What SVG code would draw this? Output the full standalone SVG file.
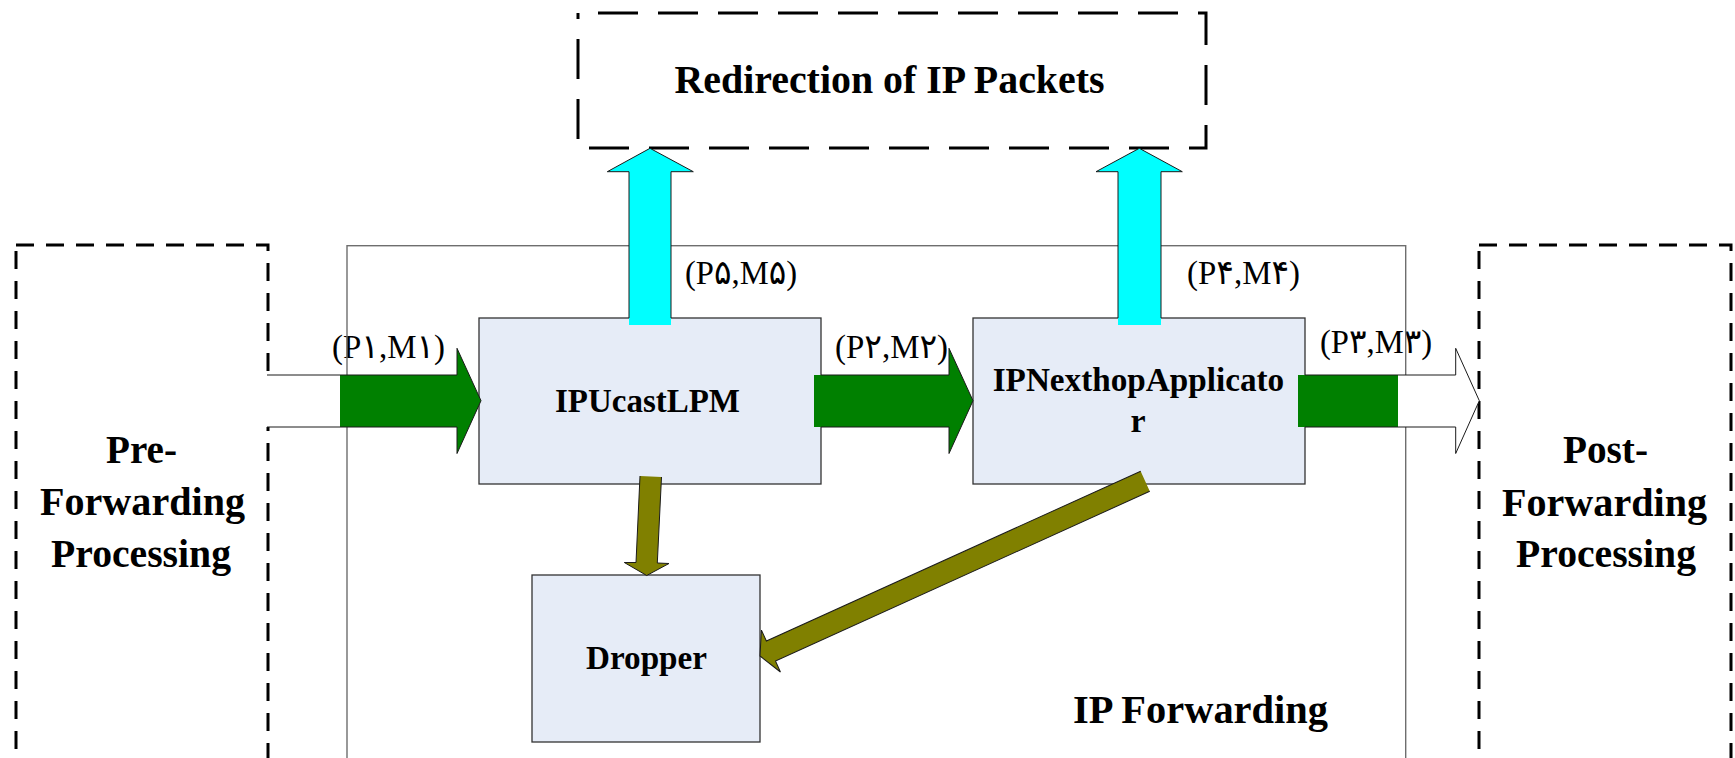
<svg xmlns="http://www.w3.org/2000/svg" width="1735" height="758" viewBox="0 0 1735 758">
  <style>
    .title { font-family: "Liberation Serif", "Times New Roman", serif; font-weight: bold; fill: #000; }
    .big { font-size: 41px; }
    .mid { font-size: 34px; }
    .flow { font-family: "Liberation Serif", "DejaVu Sans", serif; font-size: 34px; fill: #000; }
    .dash-top { fill: none; stroke: #000; stroke-width: 3; stroke-dasharray: 40 20; stroke-dashoffset: 40; }
    .dash-side { fill: none; stroke: #000; stroke-width: 3; stroke-dasharray: 18 12; }
    .frame { fill: none; stroke: #6e6e6e; stroke-width: 1.4; }
    .node { fill: #E6ECF7; stroke: #333; stroke-width: 1.3; }
    .green { fill: #008000; }
    .cyan { fill: #00FFFF; }
    .olive { fill: #808000; }
    .blank { fill: #fff; }
    .edge { fill: none; stroke: #1a1a1a; stroke-width: 1; stroke-linejoin: miter; }
  </style>

  <!-- packet / metadata labels on the flows -->
  <g id="flow-labels">
    <text class="flow" x="332" y="358" textLength="113" lengthAdjust="spacingAndGlyphs">(P۱,M۱)</text>
    <text class="flow" x="835" y="358" textLength="113" lengthAdjust="spacingAndGlyphs">(P۲,M۲)</text>
    <text class="flow" x="1320" y="353" textLength="112" lengthAdjust="spacingAndGlyphs">(P۳,M۳)</text>
    <text class="flow" x="1187" y="284" textLength="113" lengthAdjust="spacingAndGlyphs">(P۴,M۴)</text>
    <text class="flow" x="685" y="284" textLength="112" lengthAdjust="spacingAndGlyphs">(P۵,M۵)</text>
  </g>

  <!-- enclosing IP Forwarding stage -->
  <g id="ip-forwarding">
    <rect class="frame" x="347" y="245.7" width="1058.7" height="530"/>
    <text class="title big" x="1073" y="723" textLength="255" lengthAdjust="spacingAndGlyphs">IP Forwarding</text>
  </g>

  <!-- external stages -->
  <g id="redirection">
    <rect class="dash-top" x="578" y="13" width="628" height="135"/>
    <text class="title big" x="674.5" y="92.5" textLength="430" lengthAdjust="spacingAndGlyphs">Redirection of IP Packets</text>
  </g>

  <g id="pre-forwarding">
    <rect class="dash-side" x="16" y="245" width="252" height="540"/>
    <text class="title big" x="106" y="463" textLength="71" lengthAdjust="spacingAndGlyphs">Pre-</text>
    <text class="title big" x="40" y="515" textLength="205" lengthAdjust="spacingAndGlyphs">Forwarding</text>
    <text class="title big" x="51" y="567" textLength="180" lengthAdjust="spacingAndGlyphs">Processing</text>
  </g>

  <g id="post-forwarding">
    <rect class="dash-side" x="1479" y="245" width="252" height="540"/>
    <text class="title big" x="1563" y="463" textLength="85" lengthAdjust="spacingAndGlyphs">Post-</text>
    <text class="title big" x="1502" y="516" textLength="205" lengthAdjust="spacingAndGlyphs">Forwarding</text>
    <text class="title big" x="1516" y="567" textLength="180" lengthAdjust="spacingAndGlyphs">Processing</text>
  </g>

  <!-- processing elements -->
  <g id="ipucastlpm">
    <rect class="node" x="479" y="318" width="342" height="166"/>
    <text class="title mid" x="555" y="411.5" textLength="185" lengthAdjust="spacingAndGlyphs">IPUcastLPM</text>
  </g>

  <g id="ipnexthopapplicator">
    <rect class="node" x="973" y="318" width="332" height="166"/>
    <text class="title mid" x="992.7" y="391" textLength="291.5" lengthAdjust="spacingAndGlyphs">IPNexthopApplicato</text>
    <text class="title mid" x="1138" y="432" text-anchor="middle">r</text>
  </g>

  <g id="dropper">
    <rect class="node" x="532" y="575" width="228" height="167"/>
    <text class="title mid" x="586" y="669" textLength="121" lengthAdjust="spacingAndGlyphs">Dropper</text>
  </g>

  <!-- block-arrow connectors -->
  <g id="connectors">
    <!-- pre-forwarding -> IPUcastLPM -->
    <g id="flow-p1">
      <polygon class="blank" points="265,375 457,375 457,348.3 481,400.7 457,453.5 457,427 265,427"/>
      <polygon class="green" points="340,375 457,375 457,348.3 481,400.7 457,453.5 457,427 340,427"/>
      <polyline class="edge" points="267,375 457,375 457,348.3 481,400.7 457,453.5 457,427 267,427"/>
    </g>
    <!-- IPUcastLPM -> IPNexthopApplicator -->
    <g id="flow-p2">
      <polygon class="green" points="814,375 949,375 949,348.3 973,400.7 949,453.5 949,427 814,427"/>
      <polyline class="edge" points="821,375 949,375 949,348.3 973,400.7 949,453.5 949,427 821,427"/>
    </g>
    <!-- IPNexthopApplicator -> post-forwarding -->
    <g id="flow-p3">
      <polygon class="blank" points="1305,375 1455.7,375 1455.7,348.3 1479.3,400.7 1455.7,453.5 1455.7,427 1305,427"/>
      <rect class="green" x="1298" y="375" width="100" height="52"/>
      <polyline class="edge" points="1305,375 1455.7,375 1455.7,348.3 1479.3,400.7 1455.7,453.5 1455.7,427 1305,427"/>
    </g>
    <!-- IPUcastLPM -> redirection -->
    <g id="flow-p5">
      <polygon class="cyan" points="629,325 629,171.7 607.3,171.7 650,148.3 693.3,171.7 671,171.7 671,325"/>
      <polyline class="edge" points="629,318 629,171.7 607.3,171.7 650,148.3 693.3,171.7 671,171.7 671,318"/>
    </g>
    <!-- IPNexthopApplicator -> redirection -->
    <g id="flow-p4">
      <polygon class="cyan" points="1118,325 1118,171.7 1096,171.7 1139.3,148.3 1182.3,171.7 1161,171.7 1161,325"/>
      <polyline class="edge" points="1118,318 1118,171.7 1096,171.7 1139.3,148.3 1182.3,171.7 1161,171.7 1161,318"/>
    </g>
    <!-- IPUcastLPM -> Dropper -->
    <g id="drop-lpm">
      <polygon class="olive" points="640,476 661.5,477 657.3,563 669,563.5 646.7,575.5 624.3,562.5 636,562.5"/>
      <polyline class="edge" points="661.5,477 657.3,563 669,563.5 646.7,575.5 624.3,562.5 636,562.5 640,476"/>
    </g>
    <!-- IPNexthopApplicator -> Dropper -->
    <g id="drop-nexthop" transform="translate(760 656) rotate(155.6)">
      <polygon class="olive" points="0,0 -12,-23 -12,-11 -423,-11 -423,11 -12,11 -12,23"/>
      <polyline class="edge" points="-423,-11 -12,-11 -12,-23 0,0 -12,23 -12,11 -423,11"/>
    </g>
  </g>
</svg>
